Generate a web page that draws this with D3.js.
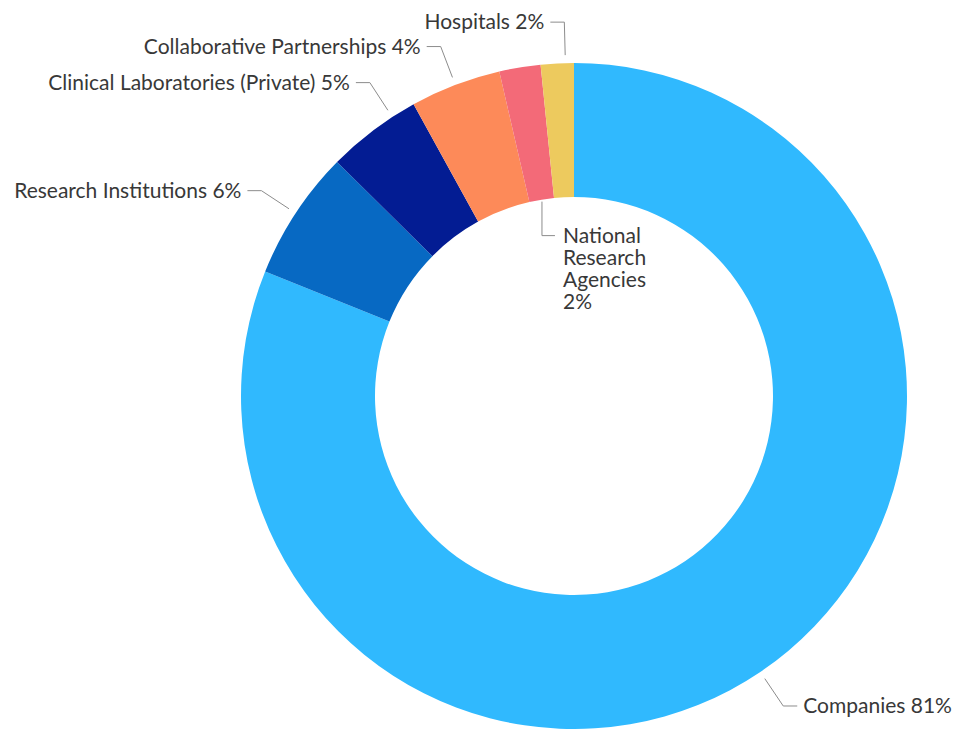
<!DOCTYPE html>
<html>
<head>
<meta charset="utf-8">
<script src="https://cdn.jsdelivr.net/npm/d3@7/dist/d3.min.js"></script>
<style>
  html, body { margin: 0; padding: 0; background: #ffffff; }
  svg { display: block; }
  text { font-family: Lato, "Open Sans", sans-serif; fill: #383838; }
</style>
</head>
<body>
<svg id="chart" width="954" height="729"></svg>
<script>
// ---- data ----
const categories = ["Companies", "Research Institutions", "Clinical Laboratories (Private)",
                    "Collaborative Partnerships", "National Research Agencies", "Hospitals"];
const shares = [81.1, 6.3, 4.6, 4.4, 2.0, 1.6];
const colors = ["#30B9FE", "#0769C3", "#031C93", "#FD8A59", "#F36A78", "#EDCA5E"];

// ---- layout ----
const W = 954, H = 729;
const cx = 574, cy = 396, R = 333, r0 = 199;
const fontSize = 21;
// small per-label angular nudges (degrees, clockwise) and placement
const labelNudge = [0, 0, 4, 0, 0, 1.4];
const labelInside = [false, false, false, false, true, false];

const svg = d3.select("#chart");
const g = svg.append("g").attr("transform", `translate(${cx},${cy})`);

const pie = d3.pie().sort(null).value(d => d).startAngle(0).endAngle(2 * Math.PI);
const arcs = pie(shares);
const arc = d3.arc().innerRadius(r0).outerRadius(R);

g.selectAll("path.slice")
  .data(arcs)
  .join("path")
  .attr("class", "slice")
  .attr("d", arc)
  .attr("fill", (d, i) => colors[i]);

const pt = (a, rad) => [rad * Math.sin(a), -rad * Math.cos(a)];
const lineGen = d3.line();

arcs.forEach((d, i) => {
  const pct = Math.round(d.value) + "%";
  const a = (d.startAngle + d.endAngle) / 2 + labelNudge[i] * Math.PI / 180;
  if (labelInside[i]) {
    const p0 = pt(a, r0 - 2);
    const p1 = [p0[0], p0[1] + 34];
    const p2 = [p1[0] + 13, p1[1]];
    g.append("path").attr("d", lineGen([p0, p1, p2]))
      .attr("fill", "none").attr("stroke", "#8c8c8c").attr("stroke-width", 1);
    const words = categories[i].split(" ").concat([pct]);
    const t = g.append("text")
      .attr("x", p2[0] + 8).attr("y", p2[1])
      .attr("font-size", fontSize);
    words.forEach((w, k) => {
      t.append("tspan").attr("x", p2[0] + 8)
        .attr("y", p2[1] + 2 + k * 22)
        .attr("dominant-baseline", "middle")
        .text(w);
    });
  } else {
    const p0 = pt(a, R + 8);
    const p1 = pt(a, R + 41);
    const side = Math.sin(a) >= 0 ? 1 : -1;
    const p2 = [p1[0] + side * 14, p1[1]];
    g.append("path").attr("d", lineGen([p0, p1, p2]))
      .attr("fill", "none").attr("stroke", "#8c8c8c").attr("stroke-width", 1);
    g.append("text")
      .attr("x", p2[0] + side * 6).attr("y", p2[1] + 2)
      .attr("dominant-baseline", "middle")
      .attr("text-anchor", side > 0 ? "start" : "end")
      .attr("font-size", fontSize)
      .text(categories[i] + " " + pct);
  }
});
</script>
</body>
</html>
